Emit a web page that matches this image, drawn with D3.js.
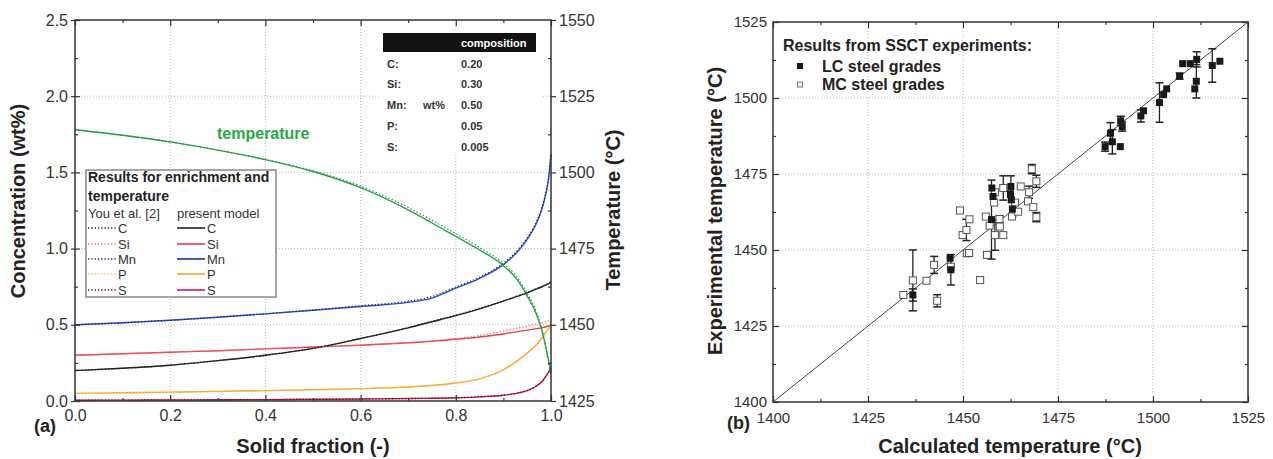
<!DOCTYPE html>
<html><head><meta charset="utf-8">
<script src="https://cdn.jsdelivr.net/npm/d3@7"></script>
<style>
body{margin:0;background:#fff;}
svg{display:block;font-family:"Liberation Sans",Arial,sans-serif;}
</style></head><body>
<svg id="c" width="1273" height="459"></svg>
<script>
// ---------- (a) enrichment data ----------
const fs      = [0,0.1,0.2,0.3,0.4,0.5,0.6,0.7,0.75,0.8,0.85,0.9,0.93,0.95,0.97,0.98,0.99,0.995,1.0];
const concC   = [0.20,0.215,0.235,0.265,0.30,0.345,0.41,0.48,0.52,0.56,0.605,0.655,0.688,0.71,0.735,0.748,0.762,0.77,0.78];
const concSi  = [0.30,0.31,0.32,0.33,0.342,0.354,0.366,0.382,0.392,0.405,0.42,0.44,0.455,0.465,0.475,0.48,0.487,0.492,0.50];
const concMn  = [0.50,0.513,0.53,0.55,0.572,0.595,0.62,0.647,0.675,0.74,0.805,0.895,0.98,1.06,1.17,1.25,1.37,1.46,1.62];
const concP   = [0.05,0.054,0.058,0.063,0.068,0.074,0.081,0.092,0.102,0.118,0.145,0.205,0.265,0.315,0.37,0.41,0.455,0.475,0.50];
const concS   = [0.005,0.006,0.007,0.008,0.009,0.011,0.013,0.016,0.018,0.021,0.027,0.038,0.052,0.068,0.10,0.125,0.165,0.19,0.22];
const tempL   = [1514.0,1512.2,1510.0,1507.3,1504.2,1500.3,1495.0,1487.7,1483.4,1479.0,1474.6,1469.4,1464.6,1459.5,1453.2,1448.5,1442.0,1438.0,1434.0];
// You et al. [2]
const youC    = [0.20,0.215,0.235,0.265,0.30,0.345,0.41,0.482,0.523,0.563,0.608,0.658,0.69,0.713,0.738,0.751,0.765,0.773,0.785];
const youSi   = [0.30,0.31,0.32,0.33,0.342,0.354,0.366,0.383,0.395,0.41,0.43,0.46,0.478,0.49,0.505,0.512,0.52,0.525,0.53];
const youMn   = [0.50,0.513,0.53,0.55,0.573,0.597,0.625,0.655,0.685,0.748,0.812,0.905,0.99,1.07,1.18,1.26,1.38,1.47,1.62];
const youP    = [0.05,0.054,0.058,0.063,0.068,0.074,0.081,0.092,0.102,0.118,0.147,0.208,0.268,0.318,0.373,0.413,0.457,0.477,0.50];
const youS    = [0.005,0.006,0.007,0.008,0.009,0.011,0.013,0.016,0.018,0.021,0.027,0.038,0.052,0.068,0.10,0.125,0.165,0.19,0.22];
const youTemp = [1514.0,1512.2,1510.0,1507.3,1504.2,1500.5,1495.5,1488.5,1484.3,1479.9,1475.4,1470.1,1465.4,1460.3,1453.9,1449.0,1442.4,1438.3,1434.2];
const elements = ["C","Si","Mn","P","S"];
const compValues = ["0.20","0.30","0.50","0.05","0.005"];
const fracTicks = [0,0.2,0.4,0.6,0.8,1.0];
const fracMinor = [0.1,0.3,0.5,0.7,0.9];
const concTicks = [0,0.5,1.0,1.5,2.0,2.5];
const concMinor = [0.25,0.75,1.25,1.75,2.25];
const tempTicks = [1425,1450,1475,1500,1525,1550];
const tempMinor = [1437.5,1462.5,1487.5,1512.5,1537.5];

// ---------- (b) SSCT data ----------
const lcCalc = [1436.8,1446.6,1446.8,1457.5,1457.6,1457.9,1462.6,1462.7,1463.0,1462.5,1487.4,1488.8,1489.3,1491.5,1491.9,1491.4,1496.8,1497.5,1501.7,1502.8,1503.6,1507.0,1507.8,1509.8,1511.5,1511.0,1511.4,1515.6,1517.6];
const lcExp  = [1435.2,1447.3,1443.5,1460.0,1470.4,1467.6,1470.9,1466.5,1463.5,1468.5,1484.0,1488.4,1485.6,1492.5,1490.6,1484.0,1494.1,1495.8,1498.5,1501.1,1503.0,1507.2,1511.3,1511.3,1512.7,1503.0,1505.5,1510.7,1512.1];
const lcErr  = [2,0,5,13,0,0,3.5,0,2.5,0,1.5,3.5,4,1.5,1.5,0,2,0,6.5,0,0,1,0,0,2.5,0,5.5,5.5,0];
const mcCalc = [1434.3,1436.8,1440.4,1442.4,1443.2,1446.8,1449.2,1449.9,1450.9,1451.0,1451.7,1451.6,1454.5,1456.0,1456.3,1457.0,1458.4,1458.2,1458.4,1459.7,1459.6,1460.6,1460.6,1462.9,1463.7,1464.5,1465.2,1467.1,1467.4,1468.1,1468.5,1469.3,1469.3];
const mcExp  = [1435.2,1440.0,1439.9,1445.1,1433.3,1444.5,1463.0,1454.9,1456.6,1448.9,1460.1,1449.0,1440.1,1461.0,1448.4,1458.0,1469.0,1465.6,1454.9,1457.7,1460.2,1470.4,1454.9,1461.0,1465.6,1462.6,1470.9,1466.0,1469.0,1476.6,1464.1,1472.6,1460.8];
const mcErr  = [0,10,0,2.8,2,0,0,0,3.5,0,0,0,1,0,1,0,0,0,5,0,1,4,0,0,0,0,0,0,2,1.5,0,2,1.5];
const calcTicks = [1400,1425,1450,1475,1500,1525];
const calcMinor = [1412.5,1437.5,1462.5,1487.5,1512.5];
const diag = [1400,1525];

const svg = d3.select("#c");
const INK = "#333";

function ax(gen, tr, fsz){
  const a = svg.append("g").attr("transform", tr).call(gen);
  a.select(".domain").remove();
  a.attr("font-family", null).attr("font-size", null);
  a.selectAll("line").attr("stroke", INK).attr("stroke-width", 1.2);
  a.selectAll("text").attr("fill", "#333").style("font-size", (fsz||16)+"px")
   .style("font-family", '"Liberation Sans",Arial,sans-serif');
  return a;
}
function grid(g, xs, ys, x, y){
  g.selectAll(null).data(xs).join("line")
    .attr("x1", d=>x(d)).attr("x2", d=>x(d)).attr("y1", y.range()[1]).attr("y2", y.range()[0])
    .attr("stroke", "#b8b8b8").attr("stroke-dasharray", "1,2");
  g.selectAll(null).data(ys).join("line")
    .attr("y1", d=>y(d)).attr("y2", d=>y(d)).attr("x1", x.range()[0]).attr("x2", x.range()[1])
    .attr("stroke", "#b8b8b8").attr("stroke-dasharray", "1,2");
}

// ================= LEFT CHART =================
const xL = d3.scaleLinear().domain([0,1]).range([75,551]);
const yC = d3.scaleLinear().domain([0,2.5]).range([401,20]);
const yT = d3.scaleLinear().domain([1425,1550]).range([401,20]);

const gL = svg.append("g");
grid(gL, [0.2,0.4,0.6,0.8], [0.5,1.0,1.5,2.0], xL, yC);

// table background
gL.append("rect").attr("x",381).attr("y",31).attr("width",160).attr("height",124).attr("fill","#fff");

const lineC = d3.line().x((d,i)=>xL(fs[i])).y(d=>yC(d)).curve(d3.curveMonotoneX);
const lineT = d3.line().x((d,i)=>xL(fs[i])).y(d=>yT(d)).curve(d3.curveMonotoneX);

const colC="#222", colSi="#e8404c", colMn="#2a50c8", colP="#f5a623", colS="#d0174a", colT="#22a64a";
const solid = [[concS,colS],[concP,colP],[concSi,colSi],[concC,colC],[concMn,colMn]];
const dotted = [[youS,"#5a1020"],[youP,"#f0c060"],[youSi,"#e87080"],[youC,"#222"],[youMn,"#1a2a70"]];
solid.forEach(([d,c])=>gL.append("path").datum(d).attr("d",lineC).attr("fill","none").attr("stroke",c).attr("stroke-width",1.4));
gL.append("path").datum(tempL).attr("d",lineT).attr("fill","none").attr("stroke",colT).attr("stroke-width",1.4);
dotted.forEach(([d,c])=>gL.append("path").datum(d).attr("d",lineC).attr("fill","none").attr("stroke",c).attr("stroke-width",1.3).attr("stroke-dasharray","1.3,2"));
gL.append("path").datum(youTemp).attr("d",lineT).attr("fill","none").attr("stroke","#2a8a4a").attr("stroke-width",1.2).attr("stroke-dasharray","1.3,2.2");

gL.append("text").attr("x",217).attr("y",139).attr("fill","#27a844").attr("font-weight","bold").style("font-size","16px").text("temperature");

// composition table
gL.append("rect").attr("x",383).attr("y",33).attr("width",153).attr("height",19).attr("fill","#111");
gL.append("text").attr("x",461).attr("y",47).attr("fill","#fff").attr("font-weight","bold").style("font-size","11px").text("composition");
const rowY = [64,84,105,126,147];
elements.forEach((e,i)=>{
  gL.append("text").attr("x",387).attr("y",rowY[i]+4).attr("fill","#333").attr("font-weight","bold").style("font-size","11px").text(e+":");
  gL.append("text").attr("x",461).attr("y",rowY[i]+4).attr("fill","#333").attr("font-weight","bold").style("font-size","11px").text(compValues[i]);
});
gL.append("text").attr("x",423).attr("y",rowY[2]+4).attr("fill","#333").attr("font-weight","bold").style("font-size","11px").text("wt%");

// legend
const lg = gL.append("g");
lg.append("rect").attr("x",86).attr("y",170).attr("width",190).attr("height",127).attr("fill","#fff").attr("stroke","#888").attr("stroke-width",1.5);
lg.append("text").attr("x",88).attr("y",182).attr("font-weight","bold").attr("fill","#222").style("font-size","14px").text("Results for enrichment and");
lg.append("text").attr("x",88).attr("y",201).attr("font-weight","bold").attr("fill","#222").style("font-size","14px").text("temperature");
lg.append("text").attr("x",88).attr("y",218).attr("fill","#333").style("font-size","13px").text("You et al. [2]");
lg.append("text").attr("x",177).attr("y",218).attr("fill","#333").style("font-size","13px").text("present model");
const legY = [228,244,259,274,290];
const legDot = ["#222","#e87080","#1a2a70","#f0c060","#5a1020"];
const legSol = [colC,colSi,"#1a2f8a",colP,colS];
elements.forEach((e,i)=>{
  lg.append("line").attr("x1",88).attr("x2",116).attr("y1",legY[i]).attr("y2",legY[i]).attr("stroke",legDot[i]).attr("stroke-width",1.3).attr("stroke-dasharray","1.3,2");
  lg.append("text").attr("x",118).attr("y",legY[i]+5).attr("fill","#333").style("font-size","13px").text(e);
  lg.append("line").attr("x1",177).attr("x2",205).attr("y1",legY[i]).attr("y2",legY[i]).attr("stroke",legSol[i]).attr("stroke-width",1.6);
  lg.append("text").attr("x",207).attr("y",legY[i]+5).attr("fill","#333").style("font-size","13px").text(e);
});

// axes left chart
ax(d3.axisBottom(xL).tickValues(fracTicks).tickFormat(d3.format(".1f")).tickSizeInner(-6).tickSizeOuter(0).tickPadding(9), "translate(0,401)");
ax(d3.axisBottom(xL).tickValues(fracMinor).tickFormat("").tickSize(-3), "translate(0,401)");
ax(d3.axisTop(xL).tickValues(fracTicks).tickFormat("").tickSize(-6), "translate(0,20)");
ax(d3.axisTop(xL).tickValues(fracMinor).tickFormat("").tickSize(-3), "translate(0,20)");
ax(d3.axisLeft(yC).tickValues(concTicks).tickFormat(d3.format(".1f")).tickSizeInner(-5).tickSizeOuter(0).tickPadding(7), "translate(75,0)");
ax(d3.axisLeft(yC).tickValues(concTicks).tickFormat("").tickSize(4), "translate(75,0)");
ax(d3.axisLeft(yC).tickValues(concMinor).tickFormat("").tickSize(-3), "translate(75,0)");
ax(d3.axisRight(yT).tickValues(tempTicks).tickFormat(d3.format("d")).tickSizeInner(5).tickSizeOuter(0).tickPadding(3), "translate(551,0)");
ax(d3.axisRight(yT).tickValues(tempMinor).tickFormat("").tickSize(-3), "translate(551,0)");
svg.append("rect").attr("x",75).attr("y",20).attr("width",476).attr("height",381).attr("fill","none").attr("stroke",INK).attr("stroke-width",1.5);

svg.append("text").attr("transform","translate(25,201) rotate(-90)").attr("text-anchor","middle").attr("font-weight","bold").attr("fill","#222").style("font-size","20px").text("Concentration (wt%)");
svg.append("text").attr("transform","translate(620,210) rotate(-90)").attr("text-anchor","middle").attr("font-weight","bold").attr("fill","#222").style("font-size","20px").text("Temperature (°C)");
svg.append("text").attr("x",313).attr("y",453).attr("text-anchor","middle").attr("font-weight","bold").attr("fill","#222").style("font-size","20px").text("Solid fraction (-)");
svg.append("text").attr("x",34).attr("y",432).attr("font-weight","bold").attr("fill","#222").style("font-size","18px").text("(a)");

// ================= RIGHT CHART =================
const xR = d3.scaleLinear().domain([1400,1525]).range([773,1248]);
const yR = d3.scaleLinear().domain([1400,1525]).range([402,22]);
const gR = svg.append("g");
grid(gR, [1425,1450,1475,1500], [1425,1450,1475,1500], xR, yR);

gR.append("line").attr("x1",xR(diag[0])).attr("y1",yR(diag[0])).attr("x2",xR(diag[1])).attr("y2",yR(diag[1])).attr("stroke","#444").attr("stroke-width",1);

function errBars(cx, cy, ce){
  cx.forEach((c,i)=>{
    if(!ce[i]) return;
    const x = xR(c), y1 = yR(cy[i]-ce[i]), y2 = yR(cy[i]+ce[i]);
    gR.append("line").attr("x1",x).attr("x2",x).attr("y1",y1).attr("y2",y2).attr("stroke","#222").attr("stroke-width",1.3);
    gR.append("line").attr("x1",x-4).attr("x2",x+4).attr("y1",y1).attr("y2",y1).attr("stroke","#222").attr("stroke-width",1.5);
    gR.append("line").attr("x1",x-4).attr("x2",x+4).attr("y1",y2).attr("y2",y2).attr("stroke","#222").attr("stroke-width",1.5);
  });
}
errBars(mcCalc, mcExp, mcErr);
errBars(lcCalc, lcExp, lcErr);
gR.selectAll(null).data(mcCalc).join("rect")
  .attr("x",(d)=>xR(d)-3.5).attr("y",(d,i)=>yR(mcExp[i])-3.5).attr("width",7).attr("height",7)
  .attr("fill","#fff").attr("stroke","#555").attr("stroke-width",1);
gR.selectAll(null).data(lcCalc).join("rect")
  .attr("x",(d)=>xR(d)-3.5).attr("y",(d,i)=>yR(lcExp[i])-3.5).attr("width",7).attr("height",7)
  .attr("fill","#1a1a1a");

// legend
gR.append("text").attr("x",783).attr("y",51).attr("font-weight","bold").attr("fill","#222").style("font-size","16px").text("Results from SSCT experiments:");
gR.append("rect").attr("x",797).attr("y",63).attr("width",6).attr("height",6).attr("fill","#1a1a1a");
gR.append("text").attr("x",822).attr("y",72).attr("font-weight","bold").attr("fill","#222").style("font-size","16px").text("LC steel grades");
gR.append("rect").attr("x",797.5).attr("y",82).attr("width",5).attr("height",5).attr("fill","#fff").attr("stroke","#777");
gR.append("text").attr("x",822).attr("y",90).attr("font-weight","bold").attr("fill","#222").style("font-size","16px").text("MC steel grades");

ax(d3.axisBottom(xR).tickValues(calcTicks).tickFormat(d3.format("d")).tickSizeInner(-6).tickSizeOuter(0).tickPadding(10), "translate(0,402)", 15);
ax(d3.axisBottom(xR).tickValues(calcMinor).tickFormat("").tickSize(-3), "translate(0,402)");
ax(d3.axisTop(xR).tickValues(calcTicks).tickFormat("").tickSize(-6), "translate(0,22)");
ax(d3.axisTop(xR).tickValues(calcMinor).tickFormat("").tickSize(-3), "translate(0,22)");
ax(d3.axisLeft(yR).tickValues(calcTicks).tickFormat(d3.format("d")).tickSizeInner(-6).tickSizeOuter(0).tickPadding(6), "translate(773,0)", 15);
ax(d3.axisLeft(yR).tickValues(calcMinor).tickFormat("").tickSize(-3), "translate(773,0)");
ax(d3.axisRight(yR).tickValues(calcTicks).tickFormat("").tickSize(-6), "translate(1248,0)");
ax(d3.axisRight(yR).tickValues(calcMinor).tickFormat("").tickSize(-3), "translate(1248,0)");
svg.append("rect").attr("x",773).attr("y",22).attr("width",475).attr("height",380).attr("fill","none").attr("stroke",INK).attr("stroke-width",1.5);

svg.append("text").attr("transform","translate(722,211) rotate(-90)").attr("text-anchor","middle").attr("font-weight","bold").attr("fill","#222").style("font-size","20px").text("Experimental temperature (°C)");
svg.append("text").attr("x",1010).attr("y",453).attr("text-anchor","middle").attr("font-weight","bold").attr("fill","#222").style("font-size","20px").text("Calculated temperature (°C)");
svg.append("text").attr("x",727).attr("y",429).attr("font-weight","bold").attr("fill","#222").style("font-size","18px").text("(b)");
</script>
</body></html>
